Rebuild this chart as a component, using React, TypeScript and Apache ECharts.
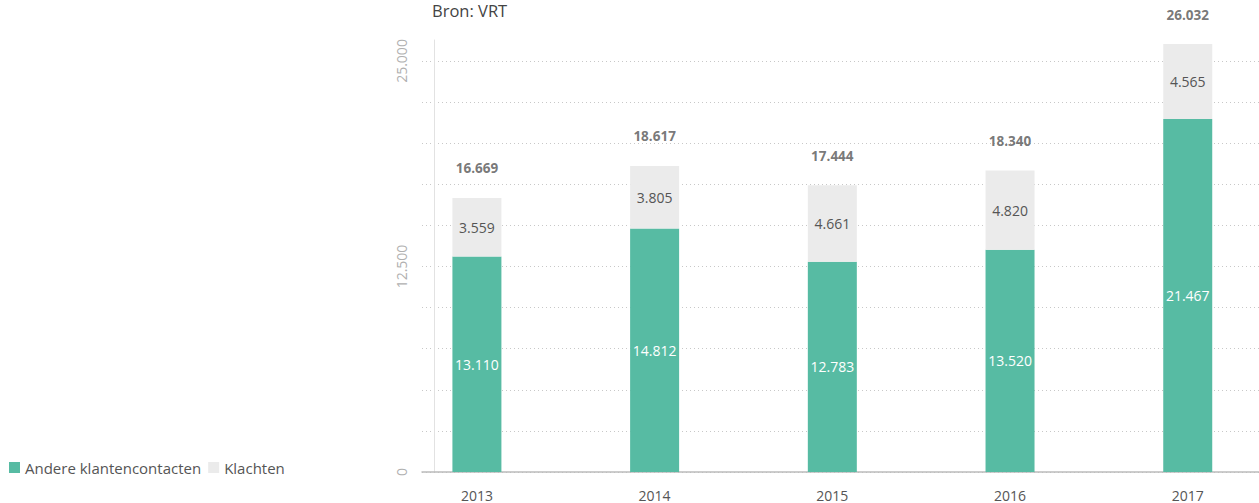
import React, { useEffect, useRef } from "react";
import * as echarts from "echarts";

const years = [2013, 2014, 2015, 2016, 2017];
const andereKlantencontacten = [13110, 14812, 12783, 13520, 21467];
const klachten = [3559, 3805, 4661, 4820, 4565];
const totals = [16669, 18617, 17444, 18340, 26032];
const seriesNames = ["Andere klantencontacten", "Klachten"];
const yLabelStep = 12500;

const FONT = "'Open Sans', sans-serif";
const fmt = (v: number) => String(Math.round(v)).replace(/\B(?=(\d{3})+(?!\d))/g, ".");

export default function App() {
  const ref = useRef<HTMLDivElement>(null);
  useEffect(() => {
    if (!ref.current) return;
    const chart = echarts.init(ref.current, undefined, { renderer: "svg" });
    chart.setOption({
      animation: false,
      textStyle: { fontFamily: FONT },
      title: {
        text: "Bron: VRT",
        left: 432,
        top: 2,
        padding: 0,
        textStyle: { fontFamily: FONT, fontSize: 16.5, lineHeight: 17, fontWeight: "normal", color: "#444" },
      },
      legend: {
        data: seriesNames,
        left: 9,
        top: 460,
        icon: "rect",
        itemWidth: 11,
        itemHeight: 11,
        itemGap: 7,
        padding: 0,
        textStyle: { fontFamily: FONT, fontSize: 15, color: "#555" },
      },
      grid: { left: 422, right: 0, top: 40, bottom: 31, containLabel: false },
      xAxis: {
        type: "value",
        min: 2012.691,
        max: 2017.401,
        splitLine: { show: false },
        axisTick: { show: false },
        axisLine: { show: true, lineStyle: { color: "#bbb", width: 1.5 } },
        axisLabel: {
          margin: 16,
          showMinLabel: false,
          showMaxLabel: false,
          fontFamily: FONT,
          fontSize: 14,
          color: "#555",
          formatter: (v: number) => (Number.isInteger(v) ? String(v) : ""),
        },
      },
      yAxis: {
        type: "value",
        min: 0,
        max: 26276,
        interval: 2500,
        offset: -12,
        axisLine: { show: true, lineStyle: { color: "#e2e2e2", width: 1 } },
        axisTick: { show: false },
        splitLine: {
          show: true,
          showMaxLine: false,
          lineStyle: { type: [1, 3], color: "#c8c8c8", width: 1 },
        },
        axisLabel: {
          rotate: 90,
          margin: 26,
          fontFamily: FONT,
          fontSize: 14,
          color: "#b0b0b0",
          formatter: (v: number) => (v % yLabelStep === 0 ? fmt(v) : ""),
        },
      },
      series: [
        {
          name: seriesNames[0],
          type: "bar",
          stack: "total",
          barWidth: 49,
          encode: { x: 1, y: 0 },
          data: years.map((y, i) => [andereKlantencontacten[i], y]),
          itemStyle: { color: "#57bba3" },
          label: {
            show: true,
            position: "inside",
            fontFamily: FONT,
            fontSize: 14,
            color: "#fff",
            formatter: (p: any) => fmt(p.value[0]),
          },
        },
        {
          name: seriesNames[1],
          type: "bar",
          stack: "total",
          barWidth: 49,
          encode: { x: 1, y: 0 },
          data: years.map((y, i) => [klachten[i], y]),
          itemStyle: { color: "#ebebeb" },
          label: {
            show: true,
            position: "inside",
            fontFamily: FONT,
            fontSize: 14,
            color: "#555",
            formatter: (p: any) => fmt(p.value[0]),
          },
        },
        {
          name: "Totaal",
          type: "scatter",
          symbolSize: 1,
          silent: true,
          z: 5,
          data: years.map((y, i) => [y, totals[i]]),
          itemStyle: { color: "transparent" },
          label: {
            show: true,
            position: "top",
            distance: 22,
            fontFamily: FONT,
            fontSize: 13.5,
            fontWeight: "bold",
            color: "#555",
            formatter: (p: any) => fmt(p.value[1]),
          },
        },
      ],
    });
    return () => chart.dispose();
  }, []);
  return (
    <div
      ref={ref}
      style={{ position: "absolute", left: 0, top: 0, width: 1259, height: 503 }}
    />
  );
}
